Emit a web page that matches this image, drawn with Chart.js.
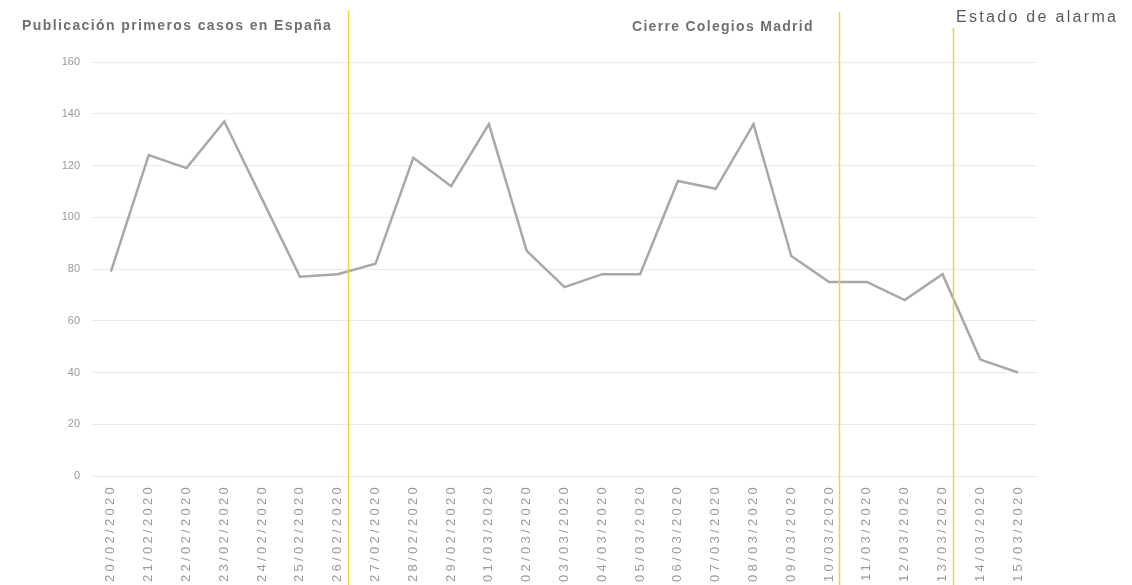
<!DOCTYPE html>
<html>
<head>
<meta charset="utf-8">
<script src="https://cdn.jsdelivr.net/npm/chart.js@4/dist/chart.umd.min.js"></script>
<style>
  html, body { margin: 0; padding: 0; background: #fff; }
  #wrap { width: 1132px; height: 585px; position: relative; }
</style>
</head>
<body>
<div id="wrap"><canvas id="casos"></canvas></div>
<script>
var fechas = ['20/02/2020','21/02/2020','22/02/2020','23/02/2020','24/02/2020','25/02/2020',
  '26/02/2020','27/02/2020','28/02/2020','29/02/2020','01/03/2020','02/03/2020','03/03/2020',
  '04/03/2020','05/03/2020','06/03/2020','07/03/2020','08/03/2020','09/03/2020','10/03/2020',
  '11/03/2020','12/03/2020','13/03/2020','14/03/2020','15/03/2020']
var valores = [79, 124, 119, 137, 107, 77, 78, 82, 123, 112, 136, 87, 73, 78, 78, 114, 111, 136, 85, 75, 75, 68, 78, 45, 40]
var eventos = ['26/02/2020', '10/03/2020', '13/03/2020']
var eventosTexto = ['Publicación primeros casos en España', 'Cierre Colegios Madrid', 'Estado de alarma']

var FUENTE = '"Liberation Sans", Arial, sans-serif'

// las etiquetas de fecha van algo espaciadas
var espaciado = {
  id: 'espaciado',
  beforeDraw: function (chart) {
    var sx = chart.scales.x
    if (sx && !sx._espaciado) {
      var orig = sx.drawLabels
      sx.drawLabels = function (ca) {
        var c = this.ctx
        c.save()
        c.letterSpacing = '3.3px'
        orig.call(this, ca)
        c.restore()
      }
      sx._espaciado = true
    }
  }
}

// lineas amarillas y textos de los eventos
var eventosPlugin = {
  id: 'eventos',
  afterDraw: function (chart) {
    var ctx = chart.ctx
    var x = chart.scales.x
    var band = x.getPixelForValue(1) - x.getPixelForValue(0)
    var tops = [10, 12, 28]
    ctx.save()
    ctx.strokeStyle = '#f3d23c'
    ctx.lineWidth = 1.5
    eventos.forEach(function (f, i) {
      var px = Math.round(x.getPixelForValue(fechas.indexOf(f)) + band * 0.27) + 0.5
      ctx.beginPath()
      ctx.moveTo(px, tops[i])
      ctx.lineTo(px, chart.height)
      ctx.stroke()
    })
    ctx.fillStyle = '#707070'
    ctx.textBaseline = 'middle'
    ctx.font = 'bold 14px ' + FUENTE
    ctx.letterSpacing = '1.4px'
    ctx.textAlign = 'left'
    ctx.fillText(eventosTexto[0], 22, 26)
    ctx.letterSpacing = '1.3px'
    ctx.fillText(eventosTexto[1], 632, 27)
    ctx.font = '16px ' + FUENTE
    ctx.letterSpacing = '2.3px'
    ctx.fillStyle = '#5a5a5a'
    ctx.fillText(eventosTexto[2], 956, 18)
    ctx.restore()
  }
}

var ctx = document.getElementById('casos').getContext('2d')
var chart = new Chart(ctx, {
  type: 'line',
  data: {
    labels: fechas,
    datasets: [{
      data: valores,
      borderColor: '#a8a8a8',
      borderWidth: 2.5,
      pointRadius: 0,
      tension: 0,
      fill: false
    }]
  },
  options: {
    responsive: true,
    maintainAspectRatio: false,
    animation: false,
    layout: { padding: { left: 0, right: 95, top: 62, bottom: 0 } },
    plugins: { legend: { display: false }, tooltip: { enabled: false } },
    scales: {
      x: {
        offset: true,
        grid: { display: false },
        border: { display: false },
        afterFit: function (s) { s.height = 109 },
        ticks: {
          minRotation: 90, maxRotation: 90, autoSkip: false, padding: 0,
          color: '#9a9a9a',
          font: { family: FUENTE, size: 13 }
        }
      },
      y: {
        min: 0, max: 160,
        afterFit: function (s) { s.width = 92 },
        grid: { color: '#ebebeb', lineWidth: 1, drawTicks: false },
        border: { display: false },
        ticks: {
          stepSize: 20, padding: 12,
          color: '#9a9a9a',
          font: { family: FUENTE, size: 11 }
        }
      }
    }
  },
  plugins: [espaciado, eventosPlugin]
})
</script>
</body>
</html>
